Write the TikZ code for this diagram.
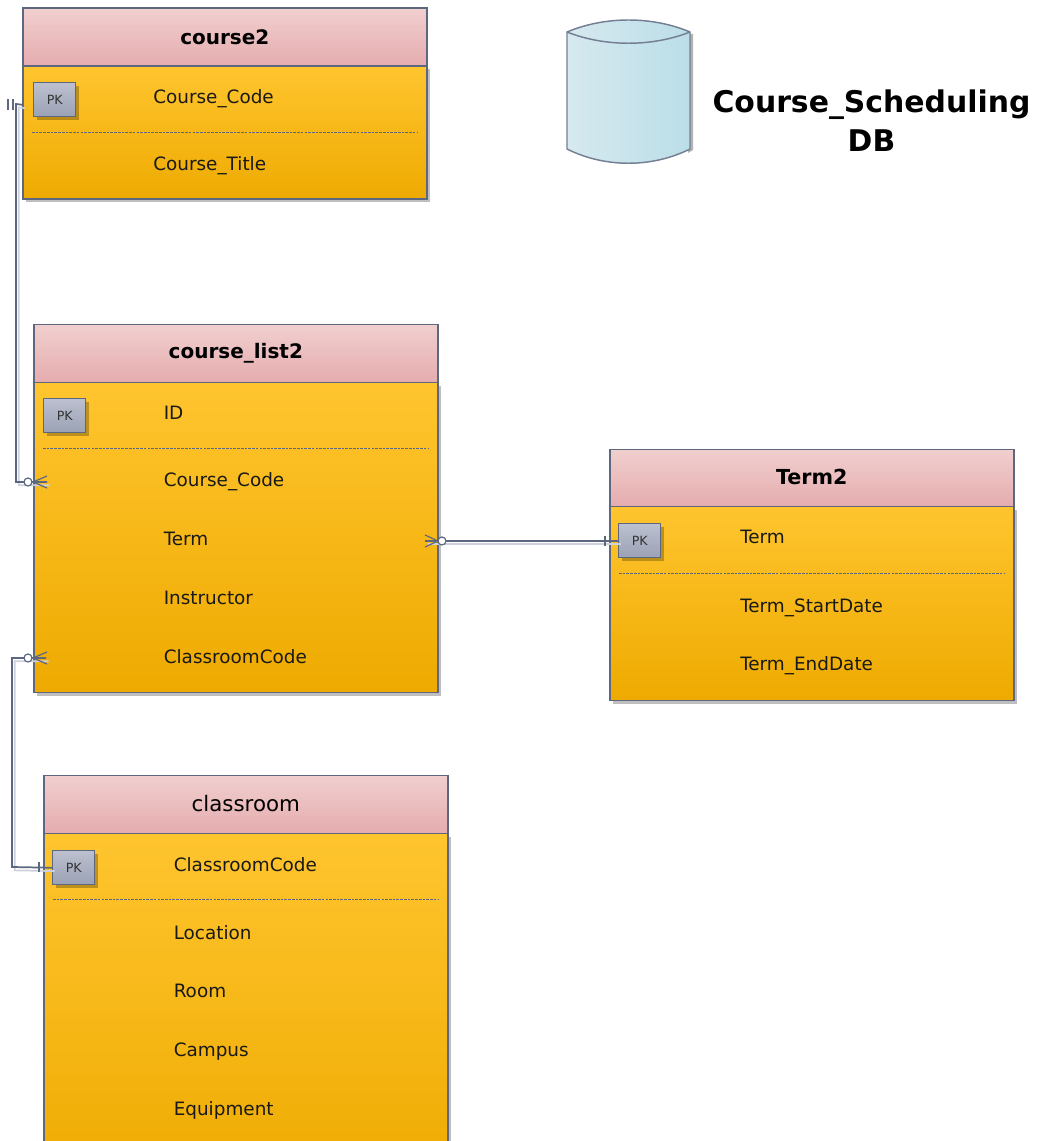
\documentclass[tikz,border=0pt]{standalone}
\usepackage{fontspec}
\setmainfont{DejaVu Sans}
\usetikzlibrary{shadows,calc}
\definecolor{edge}{HTML}{5D6880}
\definecolor{edgelite}{HTML}{CDD1DC}
\definecolor{headtop}{HTML}{F1CFCF}
\definecolor{headbot}{HTML}{E5ACAE}
\definecolor{bodytop}{HTML}{FFC52F}
\definecolor{bodybot}{HTML}{EEAA00}
\definecolor{pktop}{HTML}{BCC0CF}
\definecolor{pkbot}{HTML}{9BA2B5}
\definecolor{cyl1}{HTML}{D6E9EF}
\definecolor{cyl2}{HTML}{BBDEE8}
\tikzset{
  x=0.75pt,y=-0.75pt,
  softshadow/.style={drop shadow={shadow xshift=2.4pt,shadow yshift=-2.4pt,fill=black,opacity=.25}},
  tablehead/.style={draw=edge,line width=1.2pt,top color=headtop,bottom color=headbot,
    minimum width=303pt,inner sep=0pt,anchor=north west},
  tablebody/.style={draw=edge,line width=1.2pt,top color=bodytop,bottom color=bodybot,
    minimum width=303pt,inner sep=0pt,anchor=north west,softshadow},
  pkbox/.style={draw=edge,line width=1.1pt,top color=pktop,bottom color=pkbot,
    minimum width=31.5pt,minimum height=25.5pt,inner sep=0pt,anchor=north west,
    softshadow,font=\fontsize{9.5pt}{11pt}\selectfont,text=black!80},
  fieldname/.style={anchor=west,inner sep=0pt,text height=9.5pt,text depth=0pt,
    font=\fontsize{13.8pt}{15pt}\selectfont,text=black!90},
  sep/.style={draw=edge,line width=.7pt,dash pattern=on 2pt off .8pt},
  conn/.style={draw=edge,line width=1.3pt,line join=miter,
    preaction={draw=edgelite,line width=1.3pt,transform canvas={shift={(2pt,-2.5pt)}}}},
  endmark/.style={draw=edge,line width=.9pt},
  bigtext/.style={font=\bfseries\fontsize{22.4pt}{29pt}\selectfont,align=center,text=black},
}
\newcommand{\dbtable}[7]{% id, x, ytop, yhead, ybot, title style, title
  \pgfmathsetlengthmacro{\hh}{(#4-#3)*0.75pt}
  \pgfmathsetlengthmacro{\bh}{(#5-#4)*0.75pt}
  \node[tablebody,minimum height=\bh] (#1-body) at (#2,#4) {};
  \node[tablehead,minimum height=\hh] (#1-head) at (#2,#3) {\raisebox{1pt}{\textcolor{black}{#6#7}}};
}
\newcommand{\sepline}[3]{% id, y, name
  \coordinate (#3-a) at ($(#1-body.west|-0,#2)+(10,0)$);
  \coordinate (#3-b) at ($(#1-body.east|-0,#2)+(-10,0)$);
  \draw[sep] (#3-a) -- (#3-b);
}
\begin{document}
\begin{tikzpicture}
\useasboundingbox (0,0) rectangle (1036,1141);
\clip (0,0) rectangle (1036,1141);

% course2
\dbtable{cs}{22}{7.5}{65.5}{198.5}{\bfseries\fontsize{15pt}{17pt}\selectfont}{course2}
\node[pkbox] (cs-pk) at (33,82) {PK};
\node[fieldname] (cs-f1) at (153,97) {Course\_Code};
\sepline{cs}{132}{cs-sep}
\node[fieldname] (cs-f2) at (153,164) {Course\_Title};

% course_list2
\dbtable{cl}{33}{323.5}{381.5}{691.5}{\bfseries\fontsize{15pt}{17pt}\selectfont}{course\_list2}
\node[pkbox] (cl-pk) at (43,398) {PK};
\node[fieldname] (cl-f1) at (163.5,413) {ID};
\sepline{cl}{448}{cl-sep}
\node[fieldname] (cl-f2) at (163.5,480) {Course\_Code};
\node[fieldname] (cl-f3) at (163.5,539) {Term};
\node[fieldname] (cl-f4) at (163.5,598) {Instructor};
\node[fieldname] (cl-f5) at (163.5,657) {ClassroomCode};

% Term2
\dbtable{tm}{609}{448.5}{505.5}{699.5}{\bfseries\fontsize{15.5pt}{17pt}\selectfont}{Term2}
\node[pkbox] (tm-pk) at (618,523) {PK};
\node[fieldname] (tm-f1) at (740,537) {Term};
\sepline{tm}{573}{tm-sep}
\node[fieldname] (tm-f2) at (740,606) {Term\_StartDate};
\node[fieldname] (tm-f3) at (740,664) {Term\_EndDate};

% classroom
\dbtable{cr}{43}{774.5}{832.5}{1190}{\fontsize{16pt}{18pt}\selectfont}{classroom}
\node[pkbox] (cr-pk) at (52,850) {PK};
\node[fieldname] (cr-f1) at (173.5,865) {ClassroomCode};
\sepline{cr}{899}{cr-sep}
\node[fieldname] (cr-f2) at (173.5,933) {Location};
\node[fieldname] (cr-f3) at (173.5,991) {Room};
\node[fieldname] (cr-f4) at (173.5,1050) {Campus};
\node[fieldname] (cr-f5) at (173.5,1109) {Equipment};

% database cylinder
\fill[black,opacity=.3] (693,34) -- (693,150) -- (688,153) -- (688,34) -- cycle;
\path[draw=edge!85,line width=1.1pt,left color=cyl1,right color=cyl2]
  (567,32) .. controls (605,16) and (652,16) .. (690,32)
  -- (690,149) .. controls (652,168) and (605,168) .. (567,149) -- cycle;
\draw[draw=edge!85,line width=1.1pt] (567,32) .. controls (605,47) and (652,47) .. (690,32);

\node[bigtext] (dbname) at (871.5,120.5) {Course\_Scheduling\\DB};

% connectors
\coordinate (j1a) at ($(cs-pk.west)+(-11,5)$);
\coordinate (j1b) at (47,482);
\draw[conn] (j1a) -- (16,104) -- (16,482) -- (j1b);
\coordinate (j2a) at (46,658);
\draw[conn] (j2a) -- (12,658) -- (12,867) -- (cr-pk.west);
\coordinate (j3a) at (425,541);
\draw[conn] (j3a) -- (tm-pk.west|-0,541);

% course2 end marks
\draw[endmark] (8,99) -- (8,110) (13,99) -- (13,110);
% crow's feet and circles
\draw[endmark,fill=white] (28,482) circle[radius=4];
\draw[endmark] (33,482) -- (47,476) (33,482) -- (47,488);
\draw[endmark,fill=white] (28,658) circle[radius=4];
\draw[endmark] (33,658) -- (47,652) (33,658) -- (47,664);
\draw[endmark,fill=white] (442,541) circle[radius=4];
\draw[endmark] (438,541) -- (425,535) (438,541) -- (425,547);
% one-marks
\draw[endmark] (39,862) -- (39,872);
\draw[endmark] (605,536) -- (605,546);
\end{tikzpicture}
\end{document}
